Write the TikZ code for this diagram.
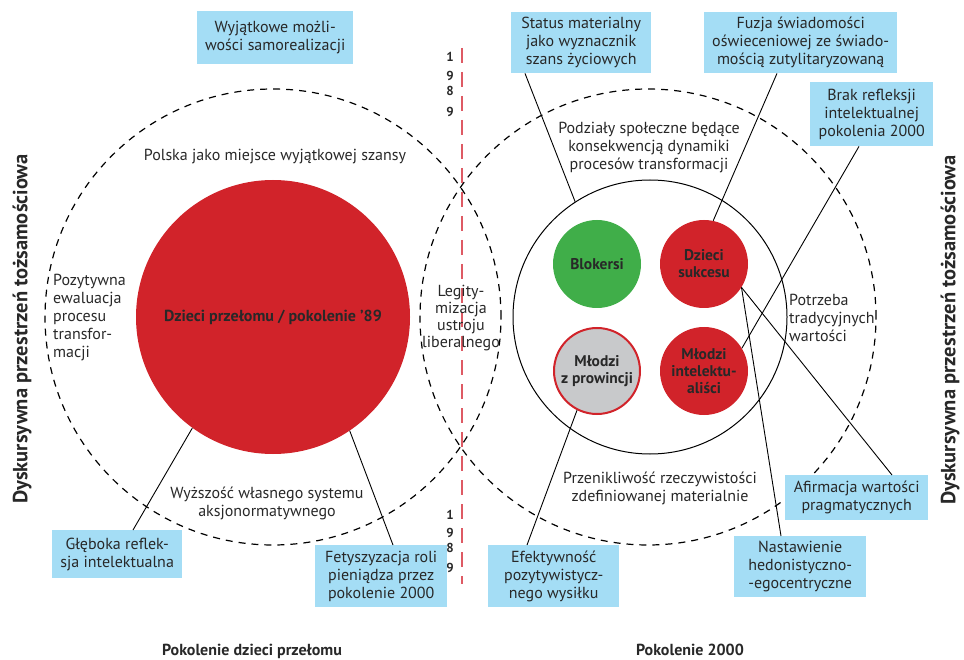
\documentclass[tikz,border=0pt]{standalone}
\usepackage{fontspec}
\setmainfont{PT Sans}
\usetikzlibrary{calc}
\definecolor{cred}{RGB}{209,35,42}
\definecolor{cgreen}{RGB}{64,174,73}
\definecolor{cgrey}{RGB}{200,201,203}
\definecolor{cblue}{RGB}{164,221,245}
\definecolor{cline}{RGB}{222,90,100}
\definecolor{ctext}{RGB}{40,40,40}
\begin{document}
\begin{tikzpicture}[x=1pt,y=-1pt,
  font=\fontsize{16}{18}\selectfont, text=ctext,
  box/.style={fill=cblue, align=center, inner sep=0pt, anchor=north west},
  dcirc/.style={circle, draw=black, dash pattern=on 7pt off 6pt, line width=1.2pt, inner sep=0pt, minimum size=456},
  gen/.style={circle, inner sep=0pt, minimum size=88, align=center, font=\bfseries\fontsize{15.5}{17}\selectfont},
  conn/.style={draw=black, line width=0.9pt},
  lbl/.style={align=center, inner sep=0pt},
  digit/.style={font=\bfseries\fontsize{13}{13}\selectfont, inner sep=0pt},
  side/.style={rotate=90, font=\bfseries\fontsize{20.5}{20.5}\selectfont, inner sep=0pt},
  bottom/.style={font=\bfseries\fontsize{16}{16}\selectfont, inner sep=0pt}]
\useasboundingbox (0,0) rectangle (964,660);

% big dashed circles
\node[dcirc] (lc) at (273,317) {};
\node[dcirc] (rc) at (648,317) {};

% 1989 line
\coordinate (rtop) at (462,48);
\coordinate (rbot) at (462,584);
\draw[cline, line width=1.5pt, dash pattern=on 15pt off 9pt] (rtop) -- (rbot);
\node[digit] (d1) at (450,57) {1};
\node[digit] (d2) at (450,76) {9};
\node[digit] (d3) at (450,91) {8};
\node[digit] (d4) at (450,112) {9};
\node[digit] (d5) at (450,515) {1};
\node[digit] (d6) at (450,533) {9};
\node[digit] (d7) at (450,548) {8};
\node[digit] (d8) at (450,568) {9};

% circles
\node[circle, fill=cred, inner sep=0pt, minimum size=274, font=\bfseries\fontsize{16}{18}\selectfont] (dp) at (273,317) {Dzieci przełomu / pokolenie ’89};
\node[circle, draw=black, line width=1pt, inner sep=0pt, minimum size=274] (ic) at (650,317) {};
\node[gen, fill=cgreen] (blo) at (597,264) {Blokersi};
\node[gen, fill=cred] (dsu) at (704,264) {Dzieci\\sukcesu};
\node[gen, fill=cgrey, draw=cred, line width=2pt, minimum size=86] (mzp) at (597,371) {Młodzi\\z prowincji};
\node[gen, fill=cred] (mint) at (704,371) {Młodzi\\intelektu-\\aliści};

% boxes
\node[box, minimum width=156, minimum height=53] (wyj) at (197,11) {Wyjątkowe możli-\\wości samorealizacji};
\node[box, minimum width=140, minimum height=61] (sta) at (511,12) {Status materialny\\jako wyznacznik\\szans życiowych};
\node[box, minimum width=193, minimum height=61] (fuz) at (704,12) {Fuzja świadomości\\oświeceniowej ze świado-\\mością zutylitaryzowaną};
\node[box, minimum width=123, minimum height=64] (bra) at (810,82) {Brak refleksji\\intelektualnej\\pokolenia 2000};
\node[box, minimum width=130, minimum height=48] (gle) at (52,530) {Głęboka reflek-\\sja intelektualna};
\node[box, minimum width=132, minimum height=62] (fet) at (315,545) {Fetyszyzacja roli\\pieniądza przez\\pokolenie 2000};
\node[box, minimum width=131, minimum height=62] (efe) at (488,545) {Efektywność\\pozytywistycz-\\nego wysiłku};
\node[box, minimum width=132, minimum height=61] (nas) at (734,536) {Nastawienie\\hedonistyczno-\\-egocentryczne};
\node[box, minimum width=143, minimum height=45] (afi) at (785,475) {Afirmacja wartości\\pragmatycznych};

% connectors
\draw[conn] ([xshift=14pt]sta.south west) -- (ic.123.5);
\draw[conn] ([xshift=73pt]fuz.south west) -- (dsu.78);
\draw[conn] ([xshift=49pt]bra.south west) -- (mint.31);
\draw[conn] (dsu.328) -- ([xshift=47pt]nas.north west);
\draw[conn] (dsu.328) -- ([xshift=107pt]afi.north west);
\draw[conn] (mzp.243) -- ([xshift=39pt]efe.north west);
\draw[conn] (dp.234) -- ([xshift=81pt]gle.north west);
\draw[conn] (dp.304) -- ([xshift=78pt]fet.north west);

% free labels
\node[lbl] (pol) at (275,157) {Polska jako miejsce wyjątkowej szansy};
\node[lbl, align=left, anchor=west] (poz) at (53,318) {Pozytywna\\ewaluacja\\procesu\\transfor-\\macji};
\node[lbl, font=\fontsize{16}{16.7}\selectfont] (leg) at (461,318) {Legity-\\mizacja\\ustroju\\liberalnego};
\node[lbl] (wyz) at (267,503) {Wyższość własnego systemu\\aksjonormatywnego};
\node[lbl] (pod) at (649,148) {Podziały społeczne będące\\konsekwencją dynamiki\\procesów transformacji};
\node[lbl, align=left, anchor=west] (pot) at (789,318) {Potrzeba\\tradycyjnych\\wartości};
\node[lbl] (prz) at (660,488) {Przenikliwość rzeczywistości\\zdefiniowanej materialnie};

% side and bottom labels
\node[side] (sl) at (22,329) {Dyskursywna przestrzeń tożsamościowa};
\node[side] (sr) at (950,330) {Dyskursywna przestrzeń tożsamościowa};
\node[bottom, anchor=base] (bl) at (252,655) {Pokolenie dzieci przełomu};
\node[bottom, anchor=base] (br) at (690,655) {Pokolenie 2000};
\end{tikzpicture}
\end{document}
